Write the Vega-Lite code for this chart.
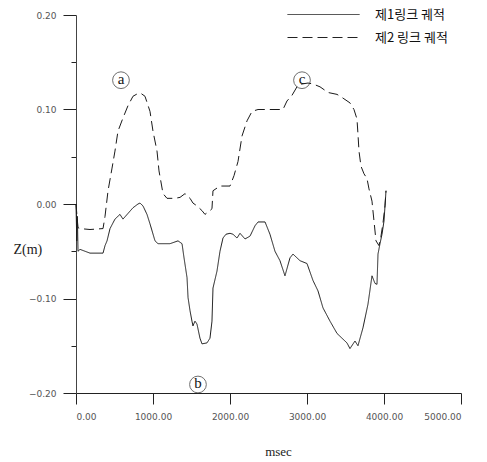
{
  "$schema": "https://vega.github.io/schema/vega-lite/v6.json",
  "width": 385,
  "height": 378,
  "autosize": "none",
  "padding": {"left": 76, "top": 15, "right": 26, "bottom": 69},
  "background": "white",
  "config": {"view": {"stroke": null}},
  "datasets": {
    "curves": [
      {"series": "제1링크 궤적", "t": 0, "z": 0.000},
      {"series": "제1링크 궤적", "t": 10, "z": -0.039},
      {"series": "제1링크 궤적", "t": 18, "z": -0.013},
      {"series": "제1링크 궤적", "t": 26, "z": -0.050},
      {"series": "제1링크 궤적", "t": 52, "z": -0.048},
      {"series": "제1링크 궤적", "t": 117, "z": -0.050},
      {"series": "제1링크 궤적", "t": 182, "z": -0.052},
      {"series": "제1링크 궤적", "t": 351, "z": -0.052},
      {"series": "제1링크 궤적", "t": 377, "z": -0.044},
      {"series": "제1링크 궤적", "t": 403, "z": -0.039},
      {"series": "제1링크 궤적", "t": 442, "z": -0.026},
      {"series": "제1링크 궤적", "t": 506, "z": -0.016},
      {"series": "제1링크 궤적", "t": 571, "z": -0.011},
      {"series": "제1링크 궤적", "t": 610, "z": -0.016},
      {"series": "제1링크 궤적", "t": 675, "z": -0.010},
      {"series": "제1링크 궤적", "t": 740, "z": -0.004},
      {"series": "제1링크 궤적", "t": 805, "z": 0.000},
      {"series": "제1링크 궤적", "t": 831, "z": 0.001},
      {"series": "제1링크 궤적", "t": 870, "z": -0.002},
      {"series": "제1링크 궤적", "t": 922, "z": -0.011},
      {"series": "제1링크 궤적", "t": 961, "z": -0.021},
      {"series": "제1링크 궤적", "t": 1026, "z": -0.039},
      {"series": "제1링크 궤적", "t": 1065, "z": -0.042},
      {"series": "제1링크 궤적", "t": 1221, "z": -0.042},
      {"series": "제1링크 궤적", "t": 1325, "z": -0.039},
      {"series": "제1링크 궤적", "t": 1377, "z": -0.042},
      {"series": "제1링크 궤적", "t": 1403, "z": -0.057},
      {"series": "제1링크 궤적", "t": 1442, "z": -0.078},
      {"series": "제1링크 궤적", "t": 1455, "z": -0.099},
      {"series": "제1링크 궤적", "t": 1481, "z": -0.113},
      {"series": "제1링크 궤적", "t": 1506, "z": -0.124},
      {"series": "제1링크 궤적", "t": 1519, "z": -0.129},
      {"series": "제1링크 궤적", "t": 1545, "z": -0.124},
      {"series": "제1링크 궤적", "t": 1571, "z": -0.127},
      {"series": "제1링크 궤적", "t": 1610, "z": -0.142},
      {"series": "제1링크 궤적", "t": 1636, "z": -0.148},
      {"series": "제1링크 궤적", "t": 1701, "z": -0.147},
      {"series": "제1링크 궤적", "t": 1740, "z": -0.142},
      {"series": "제1링크 궤적", "t": 1766, "z": -0.124},
      {"series": "제1링크 궤적", "t": 1779, "z": -0.089},
      {"series": "제1링크 궤적", "t": 1831, "z": -0.071},
      {"series": "제1링크 궤적", "t": 1870, "z": -0.050},
      {"series": "제1링크 궤적", "t": 1909, "z": -0.036},
      {"series": "제1링크 궤적", "t": 1948, "z": -0.032},
      {"series": "제1링크 궤적", "t": 2000, "z": -0.031},
      {"series": "제1링크 궤적", "t": 2039, "z": -0.032},
      {"series": "제1링크 궤적", "t": 2091, "z": -0.036},
      {"series": "제1링크 궤적", "t": 2130, "z": -0.031},
      {"series": "제1링크 궤적", "t": 2195, "z": -0.037},
      {"series": "제1링크 궤적", "t": 2260, "z": -0.034},
      {"series": "제1링크 궤적", "t": 2325, "z": -0.023},
      {"series": "제1링크 궤적", "t": 2364, "z": -0.019},
      {"series": "제1링크 궤적", "t": 2455, "z": -0.019},
      {"series": "제1링크 궤적", "t": 2519, "z": -0.032},
      {"series": "제1링크 궤적", "t": 2584, "z": -0.050},
      {"series": "제1링크 궤적", "t": 2649, "z": -0.060},
      {"series": "제1링크 궤적", "t": 2714, "z": -0.076},
      {"series": "제1링크 궤적", "t": 2779, "z": -0.057},
      {"series": "제1링크 궤적", "t": 2818, "z": -0.053},
      {"series": "제1링크 궤적", "t": 2909, "z": -0.060},
      {"series": "제1링크 궤적", "t": 3000, "z": -0.063},
      {"series": "제1링크 궤적", "t": 3078, "z": -0.081},
      {"series": "제1링크 궤적", "t": 3143, "z": -0.092},
      {"series": "제1링크 궤적", "t": 3208, "z": -0.110},
      {"series": "제1링크 궤적", "t": 3299, "z": -0.124},
      {"series": "제1링크 궤적", "t": 3390, "z": -0.137},
      {"series": "제1링크 궤적", "t": 3519, "z": -0.147},
      {"series": "제1링크 궤적", "t": 3558, "z": -0.153},
      {"series": "제1링크 궤적", "t": 3623, "z": -0.145},
      {"series": "제1링크 궤적", "t": 3662, "z": -0.150},
      {"series": "제1링크 궤적", "t": 3727, "z": -0.131},
      {"series": "제1링크 궤적", "t": 3792, "z": -0.106},
      {"series": "제1링크 궤적", "t": 3844, "z": -0.076},
      {"series": "제1링크 궤적", "t": 3883, "z": -0.084},
      {"series": "제1링크 궤적", "t": 3909, "z": -0.085},
      {"series": "제1링크 궤적", "t": 3922, "z": -0.053},
      {"series": "제1링크 궤적", "t": 3948, "z": -0.042},
      {"series": "제1링크 궤적", "t": 3974, "z": -0.032},
      {"series": "제1링크 궤적", "t": 4000, "z": -0.018},
      {"series": "제1링크 궤적", "t": 4026, "z": 0.014},
      {"series": "제2 링크 궤적", "t": 0, "z": 0.000},
      {"series": "제2 링크 궤적", "t": 13, "z": -0.013},
      {"series": "제2 링크 궤적", "t": 26, "z": -0.025},
      {"series": "제2 링크 궤적", "t": 52, "z": -0.026},
      {"series": "제2 링크 궤적", "t": 182, "z": -0.027},
      {"series": "제2 링크 궤적", "t": 351, "z": -0.026},
      {"series": "제2 링크 궤적", "t": 377, "z": -0.013},
      {"series": "제2 링크 궤적", "t": 416, "z": 0.014},
      {"series": "제2 링크 궤적", "t": 468, "z": 0.038},
      {"series": "제2 링크 궤적", "t": 506, "z": 0.056},
      {"series": "제2 링크 궤적", "t": 545, "z": 0.077},
      {"series": "제2 링크 궤적", "t": 610, "z": 0.091},
      {"series": "제2 링크 궤적", "t": 675, "z": 0.104},
      {"series": "제2 링크 궤적", "t": 740, "z": 0.114},
      {"series": "제2 링크 궤적", "t": 805, "z": 0.117},
      {"series": "제2 링크 궤적", "t": 844, "z": 0.117},
      {"series": "제2 링크 궤적", "t": 896, "z": 0.114},
      {"series": "제2 링크 궤적", "t": 961, "z": 0.098},
      {"series": "제2 링크 궤적", "t": 1000, "z": 0.077},
      {"series": "제2 링크 궤적", "t": 1052, "z": 0.056},
      {"series": "제2 링크 궤적", "t": 1078, "z": 0.035},
      {"series": "제2 링크 궤적", "t": 1130, "z": 0.011},
      {"series": "제2 링크 궤적", "t": 1182, "z": 0.006},
      {"series": "제2 링크 궤적", "t": 1286, "z": 0.006},
      {"series": "제2 링크 궤적", "t": 1351, "z": 0.007},
      {"series": "제2 링크 궤적", "t": 1416, "z": 0.011},
      {"series": "제2 링크 궤적", "t": 1481, "z": 0.006},
      {"series": "제2 링크 궤적", "t": 1519, "z": 0.001},
      {"series": "제2 링크 궤적", "t": 1571, "z": -0.002},
      {"series": "제2 링크 궤적", "t": 1636, "z": -0.007},
      {"series": "제2 링크 궤적", "t": 1675, "z": -0.011},
      {"series": "제2 링크 궤적", "t": 1740, "z": -0.007},
      {"series": "제2 링크 궤적", "t": 1766, "z": -0.005},
      {"series": "제2 링크 궤적", "t": 1779, "z": 0.014},
      {"series": "제2 링크 궤적", "t": 1870, "z": 0.019},
      {"series": "제2 링크 궤적", "t": 2000, "z": 0.019},
      {"series": "제2 링크 궤적", "t": 2052, "z": 0.030},
      {"series": "제2 링크 궤적", "t": 2104, "z": 0.045},
      {"series": "제2 링크 궤적", "t": 2156, "z": 0.072},
      {"series": "제2 링크 궤적", "t": 2221, "z": 0.088},
      {"series": "제2 링크 궤적", "t": 2286, "z": 0.098},
      {"series": "제2 링크 궤적", "t": 2364, "z": 0.100},
      {"series": "제2 링크 궤적", "t": 2519, "z": 0.100},
      {"series": "제2 링크 궤적", "t": 2688, "z": 0.100},
      {"series": "제2 링크 궤적", "t": 2740, "z": 0.109},
      {"series": "제2 링크 궤적", "t": 2805, "z": 0.115},
      {"series": "제2 링크 궤적", "t": 2870, "z": 0.124},
      {"series": "제2 링크 궤적", "t": 2935, "z": 0.127},
      {"series": "제2 링크 궤적", "t": 3013, "z": 0.128},
      {"series": "제2 링크 궤적", "t": 3078, "z": 0.127},
      {"series": "제2 링크 궤적", "t": 3169, "z": 0.124},
      {"series": "제2 링크 궤적", "t": 3273, "z": 0.118},
      {"series": "제2 링크 궤적", "t": 3390, "z": 0.116},
      {"series": "제2 링크 궤적", "t": 3468, "z": 0.112},
      {"series": "제2 링크 궤적", "t": 3558, "z": 0.107},
      {"series": "제2 링크 궤적", "t": 3610, "z": 0.100},
      {"series": "제2 링크 궤적", "t": 3649, "z": 0.090},
      {"series": "제2 링크 궤적", "t": 3662, "z": 0.074},
      {"series": "제2 링크 궤적", "t": 3675, "z": 0.056},
      {"series": "제2 링크 궤적", "t": 3701, "z": 0.040},
      {"series": "제2 링크 궤적", "t": 3740, "z": 0.032},
      {"series": "제2 링크 궤적", "t": 3779, "z": 0.027},
      {"series": "제2 링크 궤적", "t": 3805, "z": 0.016},
      {"series": "제2 링크 궤적", "t": 3844, "z": 0.003},
      {"series": "제2 링크 궤적", "t": 3870, "z": -0.018},
      {"series": "제2 링크 궤적", "t": 3896, "z": -0.039},
      {"series": "제2 링크 궤적", "t": 3935, "z": -0.044},
      {"series": "제2 링크 궤적", "t": 3961, "z": -0.034},
      {"series": "제2 링크 궤적", "t": 3987, "z": -0.020},
      {"series": "제2 링크 궤적", "t": 4013, "z": -0.002},
      {"series": "제2 링크 궤적", "t": 4026, "z": 0.014}
    ],
    "labels": [
      {"label": "a", "t": 584, "z": 0.131},
      {"label": "b", "t": 1584, "z": -0.191},
      {"label": "c", "t": 2935, "z": 0.131}
    ]
  },
  "layer": [
    {
      "data": {"name": "curves"},
      "mark": {"type": "line", "color": "#1a1a1a", "strokeWidth": 1},
      "encoding": {
        "x": {
          "field": "t",
          "type": "quantitative",
          "scale": {"domain": [0, 5000], "nice": false, "zero": false},
          "axis": {
            "values": [0, 500, 1000, 1500, 2000, 2500, 3000, 3500, 4000, 4500, 5000],
            "labelExpr": "datum.value % 1000 === 0 ? format(datum.value, '.2f') : ''",
            "tickSize": {"condition": {"test": "datum.value % 1000 === 0", "value": 11}, "value": 4},
            "labelPadding": 8,
            "labelFont": "DejaVu Sans",
            "labelFontSize": 9,
            "labelColor": "#555",
            "domainColor": "#222",
            "tickColor": "#222",
            "grid": false,
            "title": "msec",
            "titleFont": "Liberation Serif",
            "titleFontSize": 13,
            "titleFontWeight": "normal",
            "titleColor": "#222",
            "titleX": 202,
            "titleY": 58,
            "titleBaseline": "middle"
          }
        },
        "y": {
          "field": "z",
          "type": "quantitative",
          "scale": {"domain": [-0.2, 0.2], "nice": false, "zero": false},
          "axis": {
            "values": [-0.2, -0.15, -0.1, -0.05, 0, 0.05, 0.1, 0.15, 0.2],
            "labelExpr": "abs(datum.value * 10 - round(datum.value * 10)) < 0.001 ? format(datum.value, '.2f') : ''",
            "tickSize": {"condition": {"test": "abs(datum.value * 10 - round(datum.value * 10)) < 0.001", "value": 13}, "value": 5},
            "labelPadding": 7,
            "labelFont": "DejaVu Sans",
            "labelFontSize": 9,
            "labelColor": "#555",
            "domainColor": "#444",
            "tickColor": "#222",
            "grid": false,
            "title": "Z(m)",
            "titleFont": "Liberation Serif",
            "titleFontSize": 14,
            "titleFontWeight": "normal",
            "titleColor": "#222",
            "titleAngle": 0,
            "titleAlign": "left",
            "titleBaseline": "middle",
            "titleX": -63,
            "titleY": 234
          }
        },
        "strokeDash": {
          "field": "series",
          "type": "nominal",
          "scale": {"domain": ["제1링크 궤적", "제2 링크 궤적"], "range": [[1, 0], [10, 5]]},
          "legend": {
            "title": null,
            "orient": "none",
            "legendX": 241,
            "legendY": -7,
            "symbolType": "M-9,0H9",
            "symbolSize": 64,
            "symbolStrokeWidth": 1,
            "symbolStrokeColor": "#222",
            "labelFont": "Noto Sans CJK KR",
            "labelFontSize": 13,
            "labelColor": "#111",
            "labelOffset": 45,
            "rowPadding": 9,
            "labelLimit": 200
          }
        },
        "order": {"field": "t", "type": "quantitative"}
      }
    },
    {
      "data": {"name": "labels"},
      "mark": {"type": "point", "shape": "circle", "size": 280, "filled": false, "stroke": "#333", "strokeWidth": 1},
      "encoding": {
        "x": {"field": "t", "type": "quantitative"},
        "y": {"field": "z", "type": "quantitative"}
      }
    },
    {
      "data": {"name": "labels"},
      "mark": {"type": "text", "font": "Liberation Serif", "fontSize": 15, "color": "#111", "baseline": "middle", "align": "center", "dy": -1},
      "encoding": {
        "x": {"field": "t", "type": "quantitative"},
        "y": {"field": "z", "type": "quantitative"},
        "text": {"field": "label"}
      }
    }
  ]
}
